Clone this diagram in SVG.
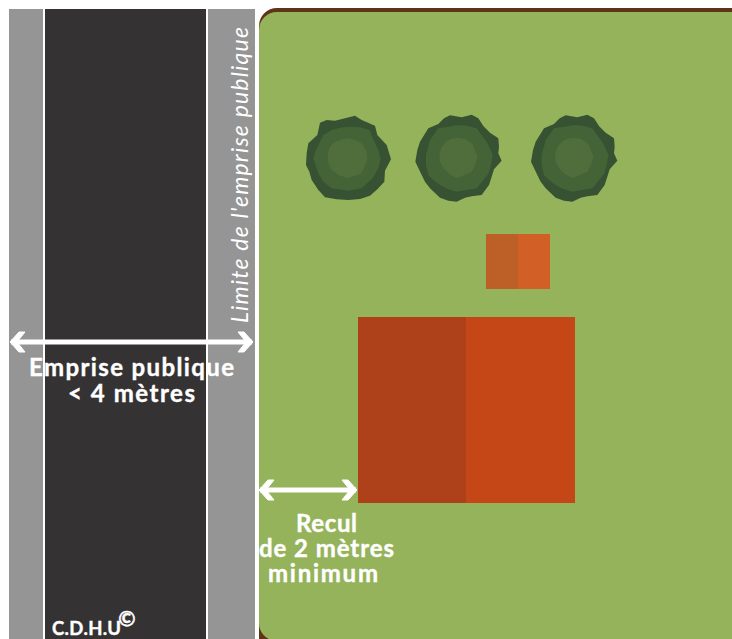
<svg xmlns="http://www.w3.org/2000/svg" width="732" height="639" viewBox="0 0 732 639">
<style>
.o{fill:#375232}.m{fill:#446337}.i{fill:#4f6e3c}
.t{font-family:"Lato","Liberation Sans",sans-serif;font-weight:700;fill:#fff;stroke:#fff;stroke-width:.4;text-anchor:middle}
.ln{fill:none;stroke:#fff;stroke-width:5;marker-start:url(#head);marker-end:url(#head)}
</style>
<defs>
<marker id="head" markerUnits="userSpaceOnUse" markerWidth="22" markerHeight="24" refX="17" refY="12" orient="auto-start-reverse">
<polygon points="18,12 9,2 3,2 11,12 3,22 9,22" fill="#fff" stroke="#fff" stroke-width="1"/>
</marker>
<g id="crown">
<polygon class="o" points="480,46 515,52 545,44 565,55 580,78 600,98 625,115 627,140 625,160 635,182 612,208 605,230 597,255 575,285 545,289 525,293 500,305 475,302 450,293 420,265 405,245 395,225 376,185 382,150 390,125 415,85 445,72 462,55"/>
<polygon class="m" points="505,75 535,78 560,85 578,110 592,128 608,165 603,195 595,222 560,265 530,270 500,275 475,268 450,255 430,240 415,225 408,195 408,165 420,120 445,85 475,80"/>
<polygon class="i" points="505,113 528,118 548,132 563,170 556,195 545,215 500,235 478,222 460,205 450,185 448,165 455,142 468,125 485,116"/>
</g>
</defs>
<rect width="732" height="639" fill="#fff"/>
<g id="road">
<rect x="9" y="9" width="246" height="630" fill="#959595"/>
<rect x="43" y="9" width="165" height="630" fill="#fff"/>
<rect x="45" y="9" width="161" height="630" fill="#353233"/>
</g>
<g id="plot">
<rect x="259" y="8" width="500" height="650" rx="18" fill="#5e3317"/>
<rect x="259" y="12" width="500" height="629" rx="18" fill="#95b35a"/>
</g>
<g id="tree1" transform="translate(290 100) scale(.33333)">
<polygon class="o" points="195,47 215,60 255,77 262,105 290,135 303,178 285,212 283,245 262,268 240,287 210,297 175,300 140,298 105,292 85,270 65,240 58,215 48,195 50,160 55,130 82,105 90,68 110,60 135,62 165,55"/>
<polygon class="m" points="175,80 210,82 238,90 255,130 265,150 272,175 265,205 248,235 215,265 175,272 125,265 100,245 85,220 70,175 78,150 90,125 100,105 125,90 150,83"/>
<polygon class="i" points="172,115 195,120 218,132 230,155 232,178 222,205 212,222 172,235 145,225 125,210 115,190 113,165 118,145 130,128 150,120"/>
</g>
<g id="tree2" transform="translate(290 100) scale(.33333)">
<use href="#crown"/>
</g>
<g id="tree3" transform="translate(290 100) scale(.33333)">
<use href="#crown" x="347"/>
</g>
<g id="small-building">
<rect x="486" y="234" width="32" height="55" fill="#bd6027"/>
<rect x="518" y="234" width="32" height="55" fill="#d25f25"/>
</g>
<g id="house">
<rect x="358" y="317" width="108" height="186" fill="#ae4119"/>
<rect x="466" y="317" width="109" height="186" fill="#c54617"/>
</g>
<g id="connectors">
<path class="ln" d="M11,342H252"/>
<path class="ln" d="M260,490H356"/>
</g>
<g id="labels">
<text class="t" font-size="24" textLength="205" x="131.500" y="376">Emprise publique</text>
<text class="t" font-size="24" textLength="127" x="131.500" y="402">&lt; 4 mètres</text>
<text class="t" font-size="24" textLength="61" x="326.500" y="532">Recul</text>
<text class="t" font-size="24" textLength="135" x="326.500" y="557">de 2 mètres</text>
<text class="t" font-size="24" textLength="110" x="323" y="582">minimum</text>
<text class="t" font-size="18.500" textLength="69" x="86.500" y="635">C.D.H.U</text>
<text class="t" font-size="21" x="127" y="626">©</text>
<text font-family="Lato,'Liberation Sans',sans-serif" font-style="italic" font-size="23" textLength="296" fill="#fff" transform="translate(248 323) rotate(-90)">Limite de l'emprise publique</text>
</g>
</svg>
